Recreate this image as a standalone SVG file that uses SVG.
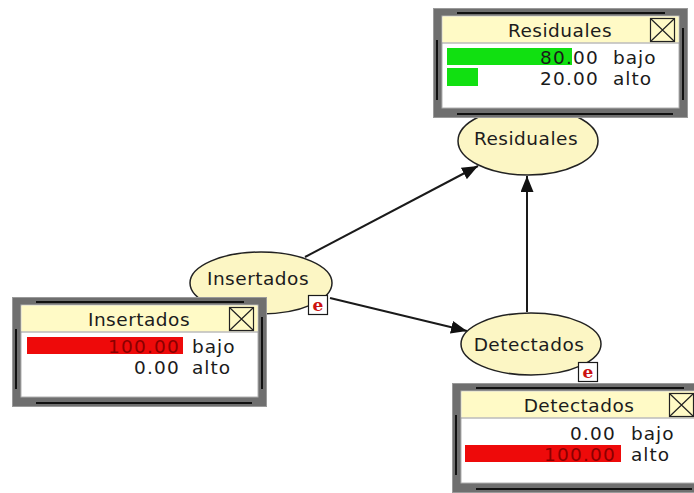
<svg xmlns="http://www.w3.org/2000/svg" width="694" height="493" viewBox="0 0 694 493">
  <defs>
    <marker id="arrow" viewBox="0 0 16 13" refX="16" refY="6.5" markerWidth="16" markerHeight="13" markerUnits="userSpaceOnUse" orient="auto">
      <path d="M0,0 L16,6.5 L0,13 Z" fill="#111"/>
    </marker>
    <!-- monitor window frame shared by the three nodes -->
    <g id="frame">
      <rect x="0" y="0" width="255" height="110" fill="#6f6f6f"/>
      <rect x="0.5" y="0.5" width="254" height="109" fill="none" stroke="#9a9a9a" stroke-width="1"/>
      <line x1="24" y1="5" x2="232" y2="5" stroke="#111" stroke-width="2"/>
      <line x1="4" y1="32" x2="4" y2="92" stroke="#111" stroke-width="2"/>
      <line x1="24" y1="106" x2="240" y2="106" stroke="#111" stroke-width="2"/>
      <line x1="250" y1="20" x2="250" y2="92" stroke="#111" stroke-width="2"/>
      <rect x="9" y="8" width="237" height="92" fill="#ffffff" stroke="#b0b0b0" stroke-width="1"/>
      <rect x="9.5" y="8.5" width="236" height="26" fill="#fffac6" stroke="none"/>
      <line x1="9" y1="35" x2="246" y2="35" stroke="#9a9a9a" stroke-width="1"/>
      <rect x="217.5" y="10.5" width="24" height="23" fill="none" stroke="#222" stroke-width="1.2"/>
      <path d="M217.5,10.5 L241.5,33.5 M241.5,10.5 L217.5,33.5" stroke="#222" stroke-width="1.2"/>
    </g>
  </defs>
  <style>
    .node { fill: #fcf6c4; stroke: #222; stroke-width: 1.5; }
    .label { font-family: "DejaVu Sans", sans-serif; font-size: 18.5px; fill: #1c1c1c; letter-spacing: 0.5px; text-anchor: middle; }
    .num { font-family: "DejaVu Sans", sans-serif; font-size: 18.5px; fill: #1a1a1a; letter-spacing: 1.2px; text-anchor: end; }
    .state { font-family: "DejaVu Sans", sans-serif; font-size: 18.5px; fill: #1a1a1a; letter-spacing: 1px; }
    .edge { stroke: #1a1a1a; stroke-width: 2; fill: none; marker-end: url(#arrow); }
    .badge { fill: #ffffff; stroke: #1a1a1a; stroke-width: 1.2; }
    .e { font-family: "DejaVu Serif", serif; font-weight: bold; font-size: 17px; fill: #cc1111; text-anchor: middle; }
    .green { fill: #11e011; }
    .red { fill: #ee0a0a; }
  </style>

  <g id="connectors">
    <line class="edge" x1="305" y1="257" x2="478" y2="166"/>
    <line class="edge" x1="330" y1="298" x2="467" y2="331"/>
    <line class="edge" x1="527" y1="312" x2="527" y2="176"/>
  </g>

  <g id="node-residuales">
    <ellipse class="node" cx="528" cy="141" rx="70" ry="34"/>
    <text class="label" x="526" y="145">Residuales</text>
  </g>

  <g id="node-insertados">
    <ellipse class="node" cx="261" cy="283" rx="71" ry="31"/>
    <text class="label" x="258" y="285">Insertados</text>
    <rect class="badge" x="308.5" y="295.5" width="19" height="19"/>
    <text class="e" x="318" y="311">e</text>
  </g>

  <g id="node-detectados">
    <ellipse class="node" cx="531" cy="344" rx="70" ry="31"/>
    <text class="label" x="529" y="351">Detectados</text>
    <rect class="badge" x="578.5" y="362.5" width="19" height="19"/>
    <text class="e" x="588" y="378">e</text>
  </g>

  <g id="monitor-residuales" transform="translate(433,8)">
    <use href="#frame"/>
    <text class="label" x="127" y="29">Residuales</text>
    <rect class="green" x="14" y="40" width="125" height="17"/>
    <rect class="green" x="14" y="60" width="31" height="18"/>
    <text class="num" x="166" y="56">80.00</text>
    <text class="state" x="180" y="56">bajo</text>
    <text class="num" x="166" y="77">20.00</text>
    <text class="state" x="180" y="77">alto</text>
  </g>

  <g id="monitor-insertados" transform="translate(12,297)">
    <use href="#frame"/>
    <text class="label" x="127" y="29">Insertados</text>
    <rect class="red" x="15" y="40" width="156" height="17"/>
    <text class="num" x="168" y="56" style="fill:#8a0000">100.00</text>
    <text class="state" x="180" y="56">bajo</text>
    <text class="num" x="168" y="77">0.00</text>
    <text class="state" x="180" y="77">alto</text>
  </g>

  <g id="monitor-detectados" transform="translate(452,383)">
    <use href="#frame"/>
    <text class="label" x="127" y="29">Detectados</text>
    <rect class="red" x="13" y="62" width="156" height="17"/>
    <text class="num" x="164" y="57">0.00</text>
    <text class="state" x="179" y="57">bajo</text>
    <text class="num" x="164" y="78" style="fill:#8a0000">100.00</text>
    <text class="state" x="179" y="78">alto</text>
  </g>
</svg>
